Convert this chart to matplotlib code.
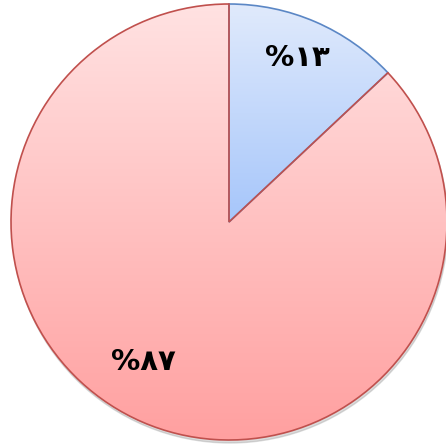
import numpy as np
import matplotlib.pyplot as plt
from matplotlib.colors import LinearSegmentedColormap

shares = [13, 87]
labels = ["%١٣", "%٨٧"]
edge_colors = ["#5b87c5", "#c0504d"]
grad_top = ["#e0eafc", "#ffe2e2"]
grad_bottom = ["#a6c6fa", "#ffa0a0"]

fig = plt.figure(figsize=(4.46, 4.48), dpi=100)
ax = fig.add_axes([0, 0, 1, 1])
ax.set_xlim(0, 446)
ax.set_ylim(0, 448)
ax.set_aspect("equal")
ax.axis("off")

cx, cy, r = 229, 226, 218

# soft shadow under the pie
shadow = plt.Circle((cx + 1, cy - 3), r, color="0.6", alpha=0.35, zorder=0)
ax.add_patch(shadow)

wedges, _ = ax.pie(shares, startangle=90, counterclock=False,
                   center=(cx, cy), radius=r, frame=True,
                   wedgeprops=dict(linewidth=1.2))
ax.set_xlim(0, 446)
ax.set_ylim(0, 448)
ax.axis("off")

for i, w in enumerate(wedges):
    w.set_facecolor("none")
    w.set_edgecolor(edge_colors[i])
    w.set_zorder(3)
    # vertical gradient clipped by the wedge
    bb = w.get_path().get_extents(w.get_transform() - ax.transData)
    cmap = LinearSegmentedColormap.from_list("g%d" % i, [grad_bottom[i], grad_top[i]])
    grad = np.linspace(0, 1, 256).reshape(-1, 1)
    im = ax.imshow(grad, cmap=cmap, origin="lower", aspect="auto",
                   extent=[bb.x0, bb.x1, bb.y0, bb.y1], zorder=2)
    im.set_clip_path(w)

ax.set_xlim(0, 446)
ax.set_ylim(0, 448)

ax.text(297, 448 - 58, labels[0], ha="center", va="center", fontsize=21,
        fontweight="bold", family=["DejaVu Sans"], zorder=5)
ax.text(143, 448 - 362, labels[1], ha="center", va="center", fontsize=21,
        fontweight="bold", family=["DejaVu Sans"], zorder=5)

fig.savefig("out.png", dpi=100)
